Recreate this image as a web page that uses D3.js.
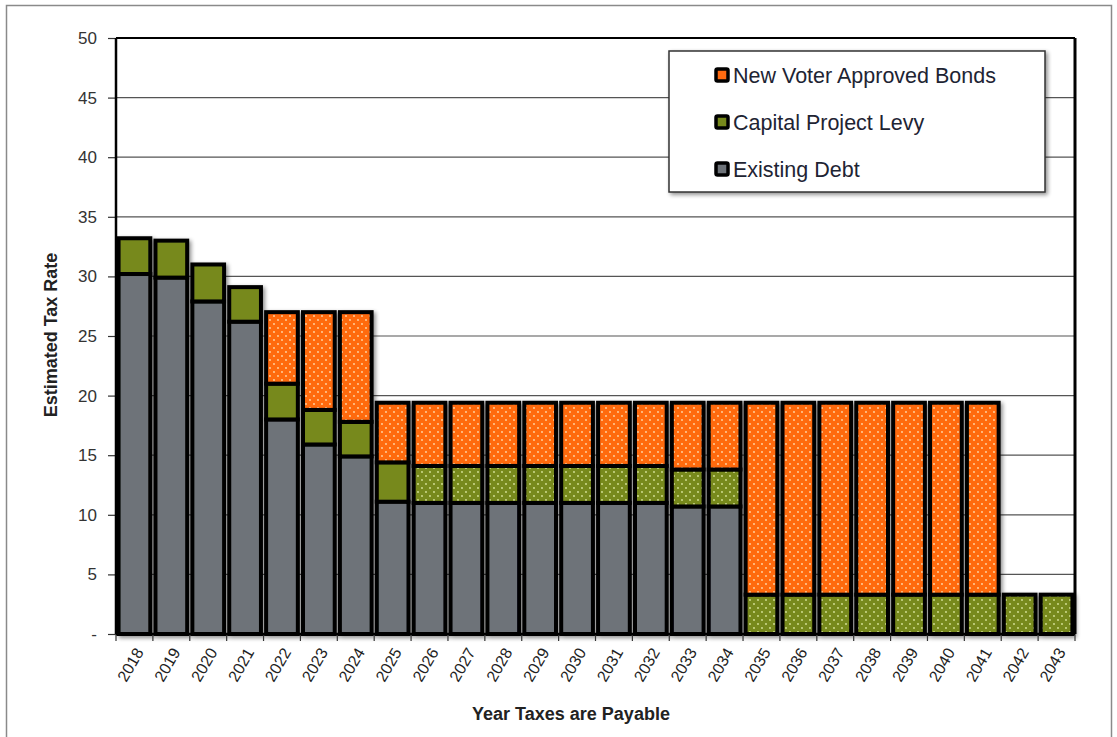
<!DOCTYPE html>
<html>
<head>
<meta charset="utf-8">
<script src="https://cdn.jsdelivr.net/npm/d3@7"></script>
<style>
  body { margin: 0; background: #fff; }
  svg { display: block; font-family: "Liberation Sans", Arial, sans-serif; }
</style>
</head>
<body>
<div id="chart"></div>
<script>
// chart values
let years = [2018, 2019, 2020, 2021, 2022, 2023, 2024, 2025, 2026, 2027, 2028, 2029, 2030,
             2031, 2032, 2033, 2034, 2035, 2036, 2037, 2038, 2039, 2040, 2041, 2042, 2043];
let existingDebt = [30.2, 29.9, 27.9, 26.2, 18.0, 15.9, 14.9, 11.1, 11.0, 11.0, 11.0, 11.0, 11.0,
                    11.0, 11.0, 10.7, 10.7, 0, 0, 0, 0, 0, 0, 0, 0, 0];
let capitalLevy = [3.0, 3.1, 3.1, 2.9, 3.0, 2.9, 2.9, 3.3, 3.1, 3.1, 3.1, 3.1, 3.1,
                   3.1, 3.1, 3.1, 3.1, 3.3, 3.3, 3.3, 3.3, 3.3, 3.3, 3.3, 3.3, 3.3];
let newBonds = [0, 0, 0, 0, 6.0, 8.2, 9.2, 5.0, 5.3, 5.3, 5.3, 5.3, 5.3,
                5.3, 5.3, 5.6, 5.6, 16.1, 16.1, 16.1, 16.1, 16.1, 16.1, 16.1, 0, 0];
let yTicks = [0, 5, 10, 15, 20, 25, 30, 35, 40, 45, 50];
let seriesNames = ["Existing Debt", "Capital Project Levy", "New Voter Approved Bonds"];
let legendOrder = ["New Voter Approved Bonds", "Capital Project Levy", "Existing Debt"];

let W = 1117, H = 737;
let margin = {top: 38, right: 42, bottom: 103, left: 116};
let plotW = W - margin.left - margin.right, plotH = H - margin.top - margin.bottom;

let x = d3.scaleBand().domain(years).range([0, plotW]).paddingInner(0.14).paddingOuter(0.07);
let y = d3.scaleLinear().domain([0, 50]).range([plotH, 0]);

let svg = d3.select("#chart").append("svg").attr("width", W).attr("height", H);
let defs = svg.append("defs");

// dotted fills
function dotPattern(id, base, dot) {
    let p = defs.append("pattern").attr("id", id).attr("patternUnits", "userSpaceOnUse")
        .attr("width", 8).attr("height", 8);
    p.append("rect").attr("width", 8).attr("height", 8).attr("fill", base);
    p.append("circle").attr("cx", 2).attr("cy", 2).attr("r", 0.9).attr("fill", dot);
    p.append("circle").attr("cx", 6).attr("cy", 6).attr("r", 0.9).attr("fill", dot);
}
dotPattern("dotOrange", "#ff6a10", "#ffd9a8");
dotPattern("dotGreen", "#77891c", "#d8e59a");

let shadow = defs.append("filter").attr("id", "shadow").attr("x", "-20%").attr("y", "-20%")
    .attr("width", "140%").attr("height", "140%");
shadow.append("feGaussianBlur").attr("in", "SourceAlpha").attr("stdDeviation", 2.2).attr("result", "b");
shadow.append("feOffset").attr("dx", 1.5).attr("dy", 1.5).attr("result", "o");
shadow.append("feComponentTransfer").append("feFuncA").attr("type", "linear").attr("slope", 0.45);
let merge = shadow.append("feMerge");
merge.append("feMergeNode");
merge.append("feMergeNode").attr("in", "SourceGraphic");

// outer frame
svg.append("rect").attr("x", 6.5).attr("y", 5.5).attr("width", 1105).attr("height", 740)
    .attr("fill", "none").attr("stroke", "#8a8a8a").attr("stroke-width", 1.5);

let g = svg.append("g").attr("transform", "translate(" + margin.left + "," + margin.top + ")");

// gridlines
g.selectAll(".grid").data(yTicks.filter(d => d > 0 && d < 50)).enter().append("line")
    .attr("x1", 0).attr("x2", plotW)
    .attr("y1", d => y(d)).attr("y2", d => y(d))
    .attr("stroke", "#555").attr("stroke-width", 1.2);

// stacked bars
let table = years.map(function(yr, i) {
    return {year: yr, "Existing Debt": existingDebt[i], "Capital Project Levy": capitalLevy[i],
            "New Voter Approved Bonds": newBonds[i]};
});
let stacked = d3.stack().keys(seriesNames)(table);

function fillFor(key, yr) {
    if (key == "Existing Debt") return "#6e7379";
    if (key == "Capital Project Levy") return yr >= 2026 ? "url(#dotGreen)" : "#77891c";
    return "url(#dotOrange)";
}

let barLayer = g.append("g").attr("filter", "url(#shadow)");
stacked.forEach(function(layer) {
    barLayer.selectAll(".seg-" + layer.index).data(layer.filter(d => d[1] - d[0] > 0)).enter()
        .append("rect")
        .attr("x", d => x(d.data.year))
        .attr("y", d => y(d[1]))
        .attr("width", x.bandwidth())
        .attr("height", d => y(d[0]) - y(d[1]))
        .attr("fill", d => fillFor(layer.key, d.data.year))
        .attr("stroke", "#000").attr("stroke-width", 4);
});

// axes
let yAxis = g.append("g").call(d3.axisLeft(y).tickValues(yTicks).tickSize(8)
    .tickFormat(d => d == 0 ? "-" : d));
yAxis.select(".domain").remove();
yAxis.selectAll(".tick line").attr("stroke", "#333").attr("stroke-width", 1.2);
yAxis.selectAll(".tick text").attr("x", -19).attr("font-size", 17)
    .attr("font-family", "Liberation Sans, Arial, sans-serif").attr("fill", "#333");

let step = x.step();
let xTickPos = d3.range(years.length + 1).map(i => x(years[0]) - step * x.paddingInner() / 2 + i * step);
g.selectAll(".xtick").data(xTickPos).enter().append("line")
    .attr("x1", d => d).attr("x2", d => d).attr("y1", plotH).attr("y2", plotH + 7)
    .attr("stroke", "#333").attr("stroke-width", 1.2);

g.selectAll(".xlabel").data(years).enter().append("text")
    .attr("transform", d => "translate(" + (x(d) + x.bandwidth() / 2 + 6) + "," + (plotH + 16) + ") rotate(-60)")
    .attr("text-anchor", "end").attr("dominant-baseline", "middle")
    .attr("font-size", 16).attr("fill", "#222")
    .text(d => d);

// plot frame
g.append("line").attr("x1", 0).attr("x2", 0).attr("y1", 0).attr("y2", plotH)
    .attr("stroke", "#000").attr("stroke-width", 2.5);
g.append("line").attr("x1", 0).attr("x2", plotW).attr("y1", plotH).attr("y2", plotH)
    .attr("stroke", "#000").attr("stroke-width", 2.5);
g.append("line").attr("x1", 0).attr("x2", plotW).attr("y1", 0).attr("y2", 0)
    .attr("stroke", "#000").attr("stroke-width", 2);
g.append("line").attr("x1", plotW).attr("x2", plotW).attr("y1", 0).attr("y2", plotH)
    .attr("stroke", "#000").attr("stroke-width", 3);

// axis titles
svg.append("text").attr("transform", "translate(57,335) rotate(-90)")
    .attr("text-anchor", "middle").attr("font-weight", "bold").attr("font-size", 18).attr("fill", "#222")
    .text("Estimated Tax Rate");
svg.append("text").attr("x", 571).attr("y", 720)
    .attr("text-anchor", "middle").attr("font-weight", "bold").attr("font-size", 18).attr("fill", "#222")
    .text("Year Taxes are Payable");

// legend
let legend = svg.append("g").attr("transform", "translate(669,51)");
legend.append("rect").attr("width", 376).attr("height", 141)
    .attr("fill", "#fff").attr("stroke", "#333").attr("stroke-width", 1.5).attr("filter", "url(#shadow)");
let swatchColor = {"New Voter Approved Bonds": "#ff6a10", "Capital Project Levy": "#77891c", "Existing Debt": "#6e7379"};
let items = legend.selectAll(".item").data(legendOrder).enter().append("g")
    .attr("transform", (d, i) => "translate(0," + (24 + i * 47) + ")");
items.append("rect").attr("x", 47).attr("y", -6).attr("width", 12).attr("height", 12)
    .attr("fill", d => swatchColor[d]).attr("stroke", "#000").attr("stroke-width", 3.5).attr("rx", 1.5);
items.append("text").attr("x", 64).attr("y", 1).attr("dominant-baseline", "central")
    .attr("font-size", 21.5).attr("fill", "#1e2433").text(d => d);
</script>
</body>
</html>
